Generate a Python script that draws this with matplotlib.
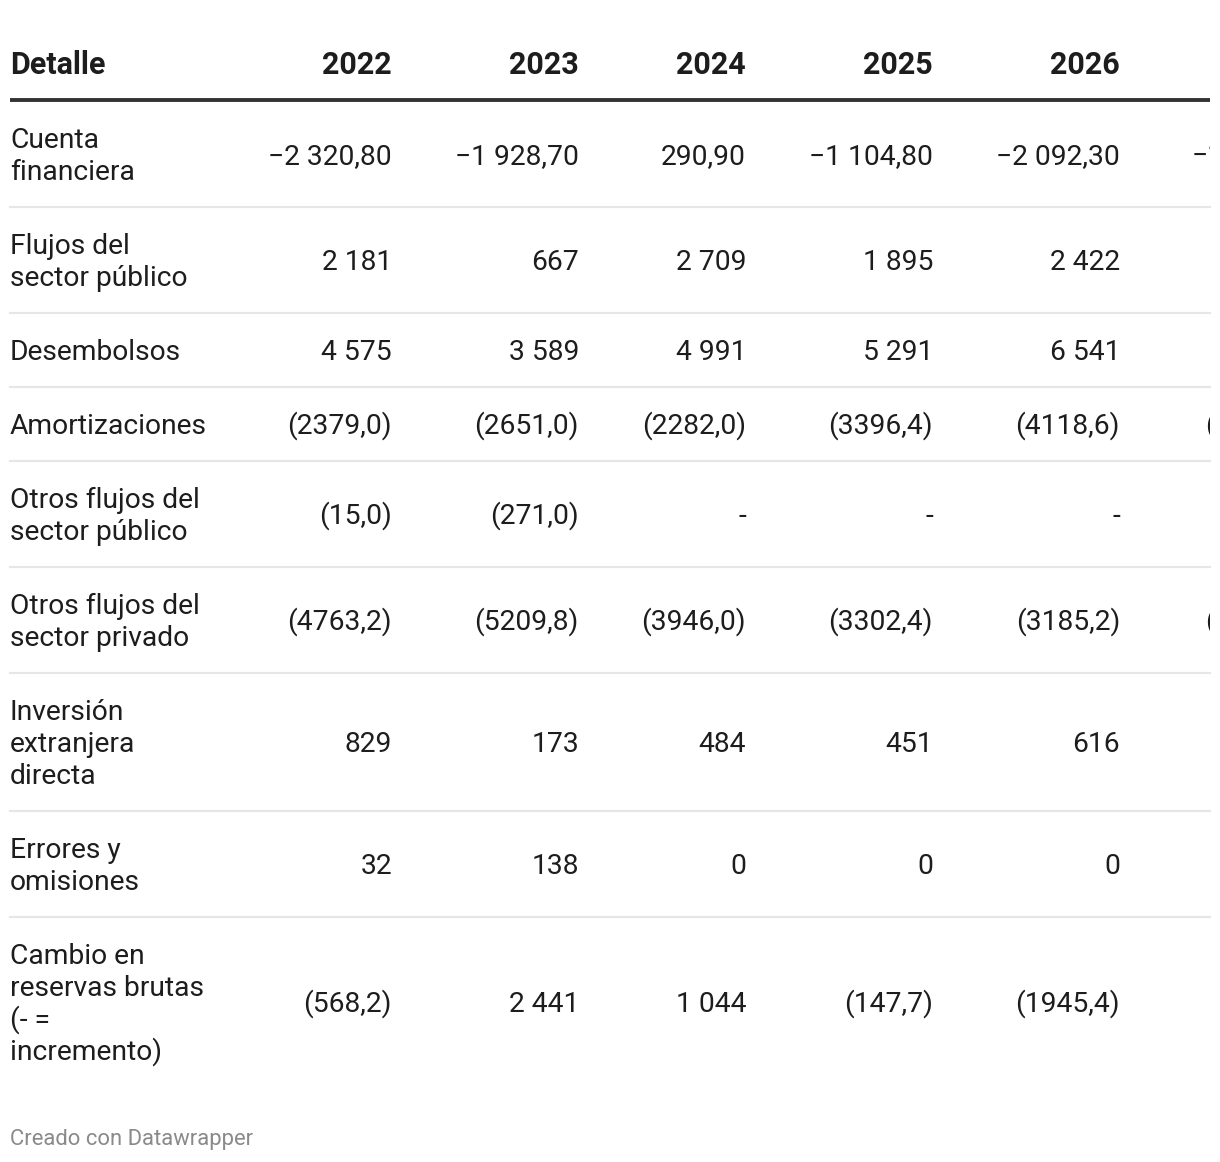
import matplotlib.pyplot as plt

plt.rcParams['font.family'] = ['Roboto', 'DejaVu Sans']

years = ['2022', '2023', '2024', '2025', '2026']
labels = [
    ['Cuenta', 'financiera'],
    ['Flujos del', 'sector público'],
    ['Desembolsos'],
    ['Amortizaciones'],
    ['Otros flujos del', 'sector público'],
    ['Otros flujos del', 'sector privado'],
    ['Inversión', 'extranjera', 'directa'],
    ['Errores y', 'omisiones'],
    ['Cambio en', 'reservas brutas', '(- =', 'incremento)'],
]
v2022 = ['−2 320,80', '2 181', '4 575', '(2379,0)', '(15,0)', '(4763,2)', '829', '32', '(568,2)']
v2023 = ['−1 928,70', '667', '3 589', '(2651,0)', '(271,0)', '(5209,8)', '173', '138', '2 441']
v2024 = ['290,90', '2 709', '4 991', '(2282,0)', '-', '(3946,0)', '484', '0', '1 044']
v2025 = ['−1 104,80', '1 895', '5 291', '(3396,4)', '-', '(3302,4)', '451', '0', '(147,7)']
v2026 = ['−2 092,30', '2 422', '6 541', '(4118,6)', '-', '(3185,2)', '616', '0', '(1945,4)']
# next column is cut off at the right edge, only the start is visible
v_cut = ['−1', '', '', '(', '', '(', '', '', '']
columns = [v2022, v2023, v2024, v2025, v2026]

W, H = 1220, 1162
fig = plt.figure(figsize=(W / 100, H / 100), dpi=100)
# table area ends at x=1210, anything beyond is clipped (as in the source)
ax = fig.add_axes([0, 0, 1210 / W, 1])
ax.set_xlim(0, 1210)
ax.set_ylim(H, 0)
ax.axis('off')

txt = '#1d1d1d'
fs = 20.3
col_right = [392, 579, 746, 933, 1120]
cut_left = {'−1': 1192, '(': 1205}

# header
ax.text(10, 74, 'Detalle', fontsize=22, fontweight='bold', color=txt, va='baseline', ha='left')
for x, yr in zip(col_right, years):
    ax.text(x, 74, yr, fontsize=22, fontweight='bold', color=txt, va='baseline', ha='right')
ax.plot([10, 1210], [100, 100], color='#333333', lw=2.8, solid_capstyle='butt', clip_on=False)

top = 101
line_h = 32
for i, lab in enumerate(labels):
    n = len(lab)
    h = 42 + line_h * n
    c = top + h / 2
    for j, line in enumerate(lab):
        yb = c + (j - (n - 1) / 2) * line_h + 10
        ax.text(10, yb, line, fontsize=fs, color=txt, va='baseline', ha='left')
    for x, col in zip(col_right, columns):
        ax.text(x, c + 10, col[i], fontsize=fs, color=txt, va='baseline', ha='right')
    if v_cut[i]:
        ax.text(cut_left[v_cut[i]], c + 10, v_cut[i], fontsize=fs, color=txt,
                va='baseline', ha='left', clip_on=True)
    top += h
    if i < len(labels) - 1:
        ax.plot([10, 1210], [top, top], color='#e6e6e6', lw=1.5, clip_on=False)

ax.text(10, 1145, 'Creado con Datawrapper', fontsize=15.8, color='#8a8a8a', va='baseline', ha='left')

fig.savefig('out.png', dpi=100, facecolor='white')
